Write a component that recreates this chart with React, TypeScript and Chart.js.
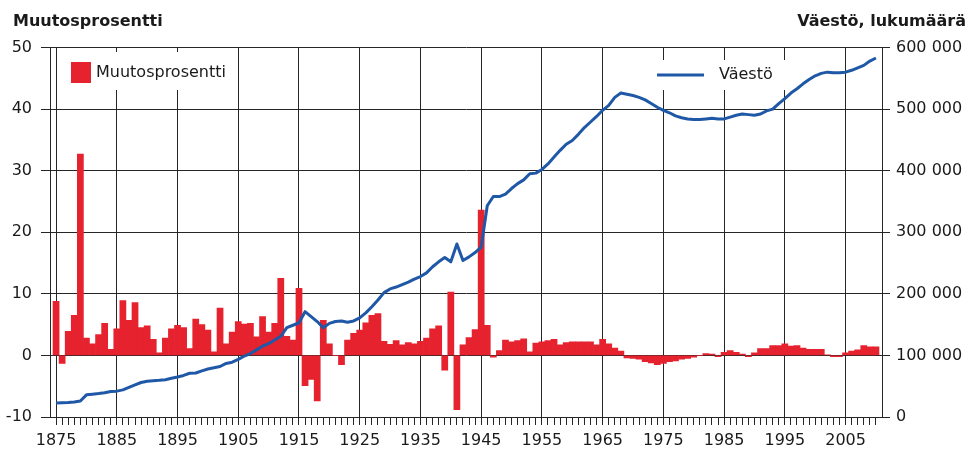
import React, { useEffect, useRef } from 'react';
import { Chart, registerables } from 'chart.js';

Chart.register(...registerables);

// ---- Data ----
const FIRST_YEAR = 1875;

// Muutosprosentti (annual change, %), 1875–2010
const percentChange: number[] = [
  8.8, -1.3, 3.9, 6.5, 32.7, 2.8, 1.9, 3.4, 5.2, 1.0,
  4.3, 8.9, 5.7, 8.6, 4.5, 4.8, 2.6, 0.4, 2.8, 4.3,
  4.9, 4.5, 1.1, 5.9, 5.0, 4.1, 0.6, 7.7, 1.9, 3.8,
  5.5, 5.1, 5.2, 3.0, 6.3, 3.8, 5.2, 12.5, 3.1, 2.5,
  10.9, -4.9, -3.9, -7.4, 5.7, 1.9, 0.0, -1.5, 2.5, 3.6,
  4.1, 5.3, 6.5, 6.8, 2.3, 1.8, 2.4, 1.7, 2.1, 1.9,
  2.3, 2.8, 4.3, 4.8, -2.4, 10.3, -8.8, 1.7, 2.9, 4.2,
  23.6, 4.9, -0.3, 0.8, 2.5, 2.2, 2.4, 2.7, 0.6, 2.0,
  2.2, 2.4, 2.6, 1.7, 2.1, 2.2, 2.2, 2.2, 2.2, 1.7,
  2.6, 1.9, 1.2, 0.7, -0.4, -0.5, -0.6, -1.0, -1.2, -1.5,
  -1.3, -1.0, -0.9, -0.6, -0.5, -0.3, 0.0, 0.3, 0.2, -0.2,
  0.5, 0.8, 0.5, 0.2, -0.2, 0.4, 1.1, 1.1, 1.6, 1.6,
  1.9, 1.5, 1.6, 1.2, 1.0, 1.0, 1.0, 0.1, -0.2, -0.2,
  0.4, 0.7, 0.9, 1.6, 1.4, 1.4,
];

// Väestö (population), 1875–2010
const population: number[] = [
  22700, 23000, 23500, 24500, 26000, 36000, 37000, 38000, 39500, 41500,
  42000, 44000, 48000, 52000, 56000, 58000, 59000, 59500, 60500, 63000,
  65000, 67500, 71000, 71500, 75000, 78000, 80000, 82000, 87000, 89000,
  93500, 99000, 103000, 109000, 115000, 119000, 125000, 131000, 145000, 149000,
  153000, 171000, 163000, 155000, 145000, 152000, 155000, 156000, 154000, 156000,
  161000, 169000, 179000, 190000, 202000, 208000, 211000, 215000, 219000, 224000,
  228000, 234000, 244000, 252000, 259000, 252000, 281000, 254000, 260000, 267000,
  276000, 343000, 358000, 358000, 362000, 371000, 379000, 385000, 395000, 396000,
  402000, 411000, 422000, 433000, 443000, 449000, 459000, 470000, 479000, 488000,
  498000, 506000, 519000, 526000, 524000, 522000, 519000, 515000, 509000, 503000,
  498000, 494000, 489000, 486000, 484000, 483000, 483000, 484000, 485000, 484000,
  484000, 487000, 490000, 492000, 491000, 490000, 492000, 497000, 500000, 509000,
  517000, 526000, 533000, 541000, 548000, 554000, 558000, 560000, 559000, 559000,
  560000, 563000, 567000, 571000, 578000, 583000,
];

const years: number[] = percentChange.map((_, i) => FIRST_YEAR + i);

const xTickLabels: string[] = ['1875', '1885', '1895', '1905', '1915', '1925', '1935', '1945', '1955', '1965', '1975', '1985', '1995', '2005'];
const leftTicks: number[] = [-10, 0, 10, 20, 30, 40, 50];
const rightTickLabels: string[] = ['0', '100 000', '200 000', '300 000', '400 000', '500 000', '600 000'];

const LEFT_TITLE = 'Muutosprosentti';
const RIGHT_TITLE = 'Väestö, lukumäärä';
const BAR_LABEL = 'Muutosprosentti';
const LINE_LABEL = 'Väestö';

const RED = '#e5222e';
const BLUE = '#1f58a6';
const INK = '#1a1a1a';
const GRID = '#262626';
const FONT = "'DejaVu Sans', Verdana, sans-serif";

const overlayPlugin = {
  id: 'overlay',
  beforeDatasetsDraw(chart: any) {
    const ctx = chart.ctx as CanvasRenderingContext2D;
    ctx.save();
    // legend backgrounds
    ctx.fillStyle = '#ffffff';
    ctx.fillRect(63, 52, 174, 38);
    ctx.fillRect(650, 60, 140, 30);
    // bar legend
    ctx.fillStyle = RED;
    ctx.fillRect(71, 62, 20, 21);
    ctx.fillStyle = INK;
    ctx.font = `16px ${FONT}`;
    ctx.textBaseline = 'middle';
    ctx.textAlign = 'left';
    ctx.fillText(BAR_LABEL, 96, 73);
    // line legend
    ctx.strokeStyle = BLUE;
    ctx.lineWidth = 3;
    ctx.beginPath();
    ctx.moveTo(657, 75);
    ctx.lineTo(704, 75);
    ctx.stroke();
    ctx.fillText(LINE_LABEL, 719, 75);
    ctx.restore();
  },
  afterDraw(chart: any) {
    const ctx = chart.ctx as CanvasRenderingContext2D;
    ctx.save();
    ctx.fillStyle = INK;
    ctx.font = `bold 16px ${FONT}`;
    ctx.textBaseline = 'alphabetic';
    ctx.textAlign = 'left';
    ctx.fillText(LEFT_TITLE, 13, 26);
    ctx.textAlign = 'right';
    ctx.fillText(RIGHT_TITLE, 966, 26);
    ctx.restore();
  },
};

export default function App() {
  const ref = useRef<HTMLCanvasElement>(null);

  useEffect(() => {
    const canvas = ref.current;
    if (!canvas) return;
    const isDecade = (v: number) => xTickLabels.includes(String(Math.round(v)));
    const chart = new Chart(canvas, {
      type: 'bar',
      data: {
        datasets: [
          {
            type: 'line',
            label: LINE_LABEL,
            data: population.map((v, i) => ({ x: years[i], y: v })),
            yAxisID: 'y2',
            xAxisID: 'x',
            borderColor: BLUE,
            backgroundColor: BLUE,
            borderWidth: 3,
            pointRadius: 0,
            tension: 0,
            borderJoinStyle: 'round',
            order: 0,
          } as any,
          {
            type: 'bar',
            label: BAR_LABEL,
            data: percentChange.map((v, i) => ({ x: years[i], y: v })),
            yAxisID: 'y',
            xAxisID: 'x',
            backgroundColor: RED,
            borderWidth: 0,
            barPercentage: 1,
            categoryPercentage: 1,
            order: 1,
          } as any,
        ],
      },
      options: {
        responsive: false,
        animation: false,
        devicePixelRatio: 1,
        layout: { padding: { top: 47.5, left: 0, right: 0, bottom: 0 } },
        plugins: {
          legend: { display: false },
          tooltip: { enabled: false },
          title: { display: false },
        },
        scales: {
          x: {
            type: 'linear',
            min: years[0] - 1,
            max: years[years.length - 1] + 1,
            offset: false,
            ticks: {
              stepSize: 1,
              autoSkip: false,
              maxRotation: 0,
              minRotation: 0,
              color: INK,
              font: { family: FONT, size: 16 },
              padding: 6,
              callback: (v: any) => (isDecade(Number(v)) ? String(Math.round(Number(v))) : ''),
            },
            grid: {
              offset: false,
              lineWidth: 1,
              color: (c: any) => (c.tick && isDecade(c.tick.value) ? GRID : 'rgba(0,0,0,0)'),
              tickColor: (c: any) =>
                c.tick && c.tick.value >= years[0] && c.tick.value <= years[years.length - 1] ? GRID : 'rgba(0,0,0,0)',
              tickLength: 8,
            },
            border: { display: true, color: GRID, width: 1 },
            afterFit: (s: any) => {
              s.height = 35;
            },
          } as any,
          y: {
            position: 'left',
            min: leftTicks[0],
            max: leftTicks[leftTicks.length - 1],
            ticks: {
              stepSize: 10,
              color: INK,
              font: { family: FONT, size: 16 },
              padding: 9,
            },
            grid: { color: GRID, lineWidth: 1, tickLength: 9, tickColor: GRID },
            border: { display: true, color: GRID, width: 1 },
            afterFit: (s: any) => {
              s.width = 50;
            },
          } as any,
          y2: {
            position: 'right',
            min: 0,
            max: 600000,
            ticks: {
              stepSize: 100000,
              color: INK,
              font: { family: FONT, size: 16 },
              padding: 6,
              callback: (v: any) => rightTickLabels[Math.round(Number(v) / 100000)] ?? '',
            },
            grid: { drawOnChartArea: false, tickLength: 8, tickColor: GRID, color: GRID },
            border: { display: true, color: GRID, width: 1 },
            afterFit: (s: any) => {
              s.width = 87;
            },
          } as any,
        },
      },
      plugins: [overlayPlugin],
    });
    return () => chart.destroy();
  }, []);

  return (
    <div style={{ position: 'fixed', left: 0, top: 0, width: 969, height: 452, background: '#ffffff' }}>
      <canvas ref={ref} width={969} height={452} style={{ display: 'block', width: 969, height: 452 }} />
    </div>
  );
}
